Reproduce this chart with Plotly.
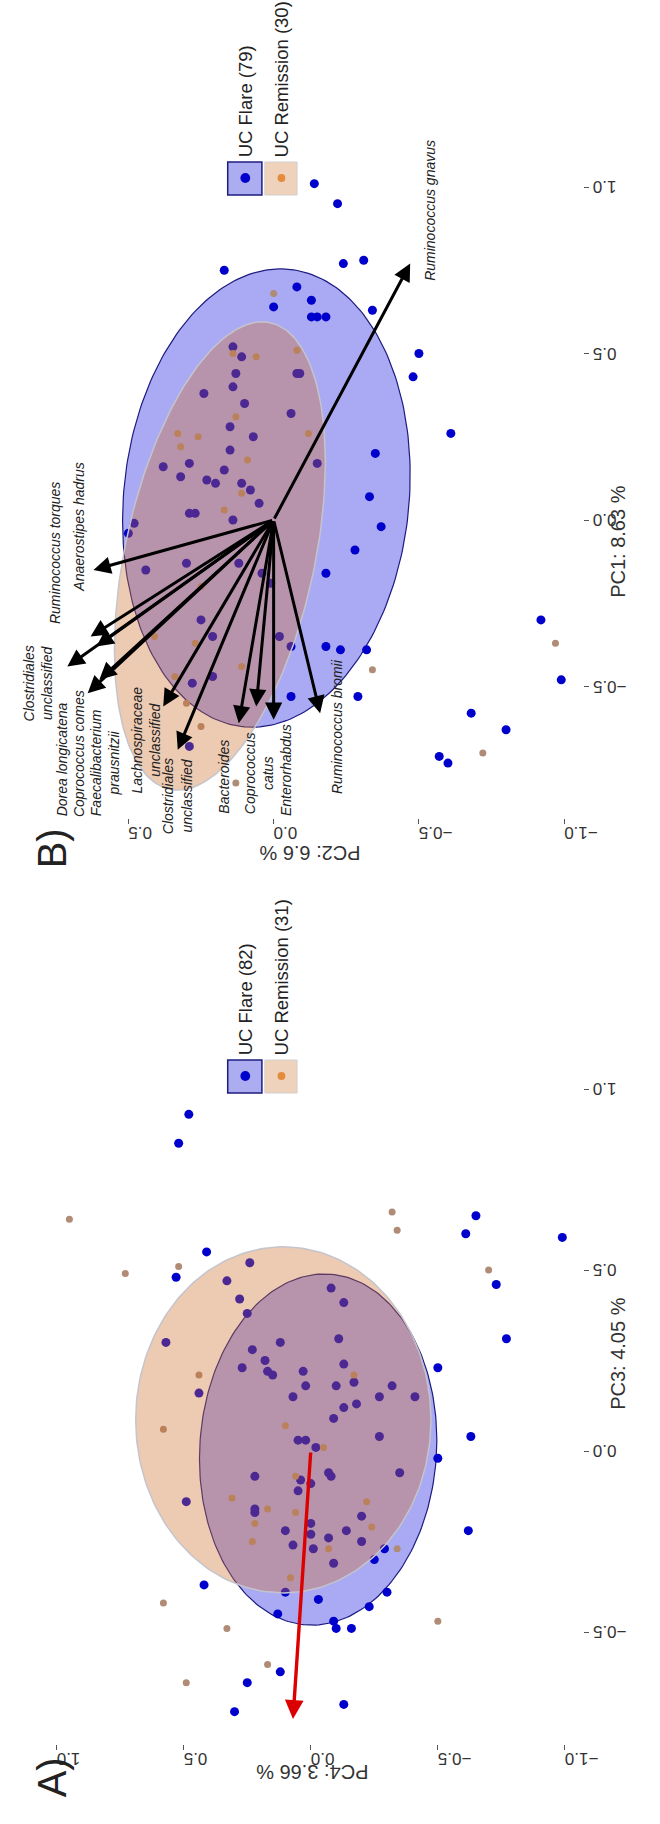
import numpy as np
import plotly.graph_objects as go

# ---------------- Panel B : PC2 (6.6 %) vs PC1 (8.63 %) ----------------
b_flare_pc2 = [0.17, -0.14, -0.08, -0.13, 0.00, -0.13, -0.15, 0.14, 0.11, -0.08, -0.09, 0.13, 0.14, 0.24,
               0.10, -0.06, 0.15, 0.07, 0.15, 0.38, 0.29, 0.17, -0.15, 0.32, 0.23, 0.20, 0.11, 0.08, 0.05,
               0.29, 0.27, 0.14, 0.48, 0.50, 0.44, 0.30, 0.12, 0.01, 0.04, 0.25, 0.21, -0.02, -0.06, 0.28,
               0.21, -0.06, 0.29, -0.18, -0.23, -0.32, -0.29, -0.92, -0.99, -0.68, -0.80, -0.57, -0.60,
               -0.22, -0.24, -0.31, -0.18, -0.34, -0.50, -0.48, -0.61, -0.35, -0.33, -0.37, -0.28, -0.18]
b_flare_pc1 = [0.75, 1.01, 0.70, 0.66, 0.64, 0.61, 0.61, 0.52, 0.49, 0.44, 0.44, 0.44, 0.40, 0.38,
               0.35, 0.32, 0.28, 0.25, 0.21, 0.16, 0.17, 0.15, 0.17, 0.13, 0.12, 0.11, 0.11, 0.09, 0.05,
               0.02, 0.02, 0.00, -0.01, -0.04, -0.15, -0.13, -0.13, -0.19, -0.16, -0.30, -0.35, -0.35, -0.38,
               -0.49, -0.47, -0.53, -0.68, -0.38, -0.39, -0.39, -0.53, -0.30, -0.48, -0.58, -0.63, -0.71,
               -0.73, 0.95, 0.77, 0.78, 0.61, 0.63, 0.50, 0.43, 0.26, 0.20, 0.07, -0.02, -0.09, -0.16]
b_rem_pc2 = [0.00, 0.14, 0.06, -0.08, 0.13, 0.33, 0.26, 0.32, 0.09, 0.11, 0.17, -0.12, 0.27, 0.41, 0.34,
             0.11, 0.25, 0.13, 0.30, -0.34, -0.97, -0.72, 0.25]
b_rem_pc1 = [0.68, 0.50, 0.49, 0.51, 0.31, 0.26, 0.25, 0.22, 0.18, 0.08, 0.03, 0.26, -0.37, -0.35, -0.47,
             -0.44, -0.62, -0.79, -0.55, -0.45, -0.37, -0.70, -0.20]

species = ["Anaerostipes hadrus", "Ruminococcus torques", "Clostridiales unclassified",
           "Dorea longicatena", "Coprococcus comes", "Faecalibacterium prausnitzii",
           "Lachnospiraceae unclassified", "Clostridiales unclassified (2)", "Bacteroides",
           "Coprococcus catus", "Enterorhabdus", "Ruminococcus bromii", "Ruminococcus gnavus"]
load_pc2 = [0.62, 0.63, 0.71, 0.61, 0.64, 0.60, 0.38, 0.33, 0.12, 0.06, 0.00, -0.16, -0.47]
load_pc1 = [-0.15, -0.35, -0.44, -0.38, -0.52, -0.48, -0.56, -0.69, -0.61, -0.56, -0.60, -0.58, 0.77]

label_text = ["Anaerostipes hadrus", "Ruminococcus torques", "Clostridiales<br>unclassified",
              "Dorea longicatena", "Coprococcus comes", "Faecalibacterium<br>prausnitzii",
              "Lachnospiraceae<br>unclassified", "Clostridiales<br>unclassified", "Bacteroides",
              "Coprococcus<br>catus", "Enterorhabdus", "Ruminococcus bromii", "Ruminococcus gnavus"]
label_pc2 = [0.67, 0.75, 0.81, 0.73, 0.67, 0.58, 0.44, 0.33, 0.17, 0.05, -0.04, -0.22, -0.54]
label_pc1 = [-0.02, -0.10, -0.49, -0.72, -0.70, -0.73, -0.66, -0.83, -0.77, -0.76, -0.75, -0.62, 0.93]

# ---------------- Panel A : PC4 (3.66 %) vs PC3 (4.05 %) ----------------
a_flare_pc4 = [0.48, 0.52, 0.41, 0.53, 0.24, 0.33, 0.28, 0.25, 0.57, 0.23, 0.12, 0.27, 0.18, 0.17, 0.15,
               0.03, 0.02, 0.07, 0.44, 0.05, 0.02, -0.02, 0.22, 0.04, 0.05, 0.00, 0.49, 0.22, 0.22, 0.00,
               0.10, 0.00, 0.07, -0.01, 0.10, 0.42, -0.03, 0.13, 0.12, 0.25, 0.30, -0.65, -0.61, -0.99,
               -0.73, -0.77, -0.50, -0.63, -0.50, -0.62, -0.13, -0.08, -0.13, -0.11, -0.13, -0.17, -0.10,
               -0.13, -0.18, -0.09, -0.27, -0.32, -0.41, -0.27, -0.35, -0.07, -0.08, -0.20, -0.14, -0.07,
               -0.20, -0.09, -0.25, -0.29, -0.30, -0.23, -0.09, -0.10, -0.16]
a_flare_pc3 = [0.93, 0.85, 0.55, 0.48, 0.52, 0.47, 0.42, 0.38, 0.30, 0.28, 0.30, 0.23, 0.25, 0.22, 0.21,
               0.22, 0.18, 0.15, 0.16, 0.03, 0.03, 0.01, -0.07, -0.08, -0.11, -0.09, -0.14, -0.16, -0.17,
               -0.20, -0.22, -0.23, -0.26, -0.27, -0.39, -0.37, -0.41, -0.45, -0.61, -0.64, -0.72, 0.65,
               0.60, 0.59, 0.46, 0.31, 0.23, 0.04, -0.02, -0.22, -0.70, 0.45, 0.41, 0.31, 0.24, 0.19, 0.18,
               0.12, 0.13, 0.09, 0.15, 0.18, 0.15, 0.04, -0.06, -0.06, -0.07, -0.18, -0.22, -0.24, -0.25,
               -0.31, -0.30, -0.27, -0.39, -0.43, -0.47, -0.49, -0.49]
a_rem_pc4 = [0.95, 0.73, 0.52, 0.44, 0.10, 0.58, 0.31, 0.06, 0.17, 0.06, 0.22, 0.23, 0.08, 0.58, 0.33,
             0.17, 0.49, -0.32, -0.34, -0.70, -0.50, -0.17, -0.05, -0.22, -0.24, -0.07, -0.34]
a_rem_pc3 = [0.64, 0.49, 0.51, 0.21, 0.07, 0.06, -0.13, -0.07, -0.16, -0.17, -0.20, -0.25, -0.35, -0.42,
             -0.49, -0.59, -0.64, 0.66, 0.61, 0.50, -0.47, 0.21, 0.01, -0.14, -0.21, -0.27, -0.27]
a_load_pc4 = [0.07]
a_load_pc3 = [-0.74]

# tick values
b_pc2_ticks = [0.5, 0.0, -0.5, -1.0]
b_pc1_ticks = [-0.5, 0.0, 0.5, 1.0]
a_pc4_ticks = [1.0, 0.5, 0.0, -0.5, -1.0]
a_pc3_ticks = [-0.5, 0.0, 0.5, 1.0]

# ellipse parameters: centre, half extents, phase (deg)
ell_b_flare = dict(cx=0.025, cy=0.066, w=0.495, h=0.688, phi=95.7)
ell_b_rem = dict(cx=0.185, cy=-0.108, w=0.363, h=0.703, phi=113.6)
ell_a_flare = dict(cx=-0.029, cy=0.004, w=0.467, h=0.485, phi=93.0)
ell_a_rem = dict(cx=0.108, cy=0.086, w=0.581, h=0.478, phi=90.0)

BLUE = "#0000cc"
REM_PT = "rgb(176,140,118)"
BLUE_FILL = "rgba(25,25,225,0.37)"
ORANGE_FILL = "rgba(205,110,45,0.37)"


def ellipse(p):
    t = np.linspace(0, 2 * np.pi, 240)
    ph = np.deg2rad(p["phi"])
    return p["cx"] + p["w"] * np.cos(t), p["cy"] + p["h"] * np.cos(t + ph)


fig = go.Figure()


def add_panel(xa, ya, ef, er, fx, fy, rx, ry):
    ex, ey = ellipse(ef)
    fig.add_trace(go.Scatter(x=ex, y=ey, mode="lines", fill="toself", fillcolor=BLUE_FILL,
                             line=dict(color="#1c1c80", width=1.2), xaxis=xa, yaxis=ya,
                             showlegend=False, hoverinfo="skip"))
    fig.add_trace(go.Scatter(x=fx, y=fy, mode="markers", marker=dict(color=BLUE, size=9),
                             xaxis=xa, yaxis=ya, showlegend=False))
    fig.add_trace(go.Scatter(x=rx, y=ry, mode="markers", marker=dict(color=REM_PT, size=7),
                             xaxis=xa, yaxis=ya, showlegend=False))
    ex, ey = ellipse(er)
    fig.add_trace(go.Scatter(x=ex, y=ey, mode="lines", fill="toself", fillcolor=ORANGE_FILL,
                             line=dict(color="#c4c4cc", width=1.5), xaxis=xa, yaxis=ya,
                             showlegend=False, hoverinfo="skip"))


add_panel("x", "y", ell_b_flare, ell_b_rem, b_flare_pc2, b_flare_pc1, b_rem_pc2, b_rem_pc1)
add_panel("x2", "y2", ell_a_flare, ell_a_rem, a_flare_pc4, a_flare_pc3, a_rem_pc4, a_rem_pc3)

W, H = 660, 1824


def px(x):
    return x / W


def py(y):
    return 1 - y / H


TXT = "Liberation Sans, Arial, sans-serif"
TICKFONT = dict(family=TXT, size=17, color="#333")
common = dict(showgrid=False, zeroline=False, showline=False, ticks="outside", ticklen=5,
              tickcolor="#555", tickwidth=1, tickfont=TICKFONT, tickangle=180, tickformat=".1f")

fig.update_layout(
    width=W, height=H, margin=dict(l=0, r=0, t=0, b=0),
    paper_bgcolor="white", plot_bgcolor="white", showlegend=False,
    xaxis=dict(domain=[0, 597 / W], range=[0.9418, -1.0663], anchor="y",
               tickvals=b_pc2_ticks, **common),
    yaxis=dict(domain=[py(818), 1.0], range=[-0.8949, 1.5616], anchor="x", side="right",
               tickvals=b_pc1_ticks, showticklabels=False, **common),
    xaxis2=dict(domain=[0, 597 / W], range=[1.2231, -1.0731], anchor="y2",
                tickvals=a_pc4_ticks, **common),
    yaxis2=dict(domain=[py(1744), py(900)], range=[-0.8094, 1.5221], anchor="x2", side="right",
                tickvals=a_pc3_ticks, showticklabels=False, **common),
)


def fmt(v):
    s = "%.1f" % abs(v)
    return ("\u2212" + s) if v < 0 else s


ann = []
# right-hand tick labels (upside down, as in the reference)
for yref, vals in (("y", b_pc1_ticks), ("y2", a_pc3_ticks)):
    for v in vals:
        ann.append(dict(x=px(604), y=v, xref="paper", yref=yref, text=fmt(v), textangle=180,
                        showarrow=False, xanchor="left", yanchor="middle", font=TICKFONT))

# loadings arrows panel B
for i in range(len(species)):
    ann.append(dict(x=load_pc2[i], y=load_pc1[i], ax=0, ay=0, xref="x", yref="y", axref="x",
                    ayref="y", showarrow=True, arrowhead=2, arrowsize=1.15, arrowwidth=3.0,
                    arrowcolor="black", text=""))
    ann.append(dict(x=label_pc2[i], y=label_pc1[i], xref="x", yref="y", showarrow=False,
                    text="<i>" + label_text[i] + "</i>", textangle=-90,
                    font=dict(family=TXT, size=14, color="#222"), xanchor="center",
                    yanchor="middle"))
# panel A arrow
ann.append(dict(x=a_load_pc4[0], y=a_load_pc3[0], ax=0, ay=0, xref="x2", yref="y2", axref="x2",
                ayref="y2", showarrow=True, arrowhead=2, arrowsize=1.1, arrowwidth=3.4,
                arrowcolor="#dd0000", text=""))

# axis titles and panel labels
ann += [
    dict(x=px(645), y=py(483), xref="paper", yref="paper", text="PC1: 8.63 %", textangle=-90,
         showarrow=False, font=dict(family=TXT, size=20, color="#333")),
    dict(x=px(645), y=py(1412), xref="paper", yref="paper", text="PC3: 4.05 %", textangle=-90,
         showarrow=False, font=dict(family=TXT, size=20, color="#333")),
    dict(x=px(317), y=py(853), xref="paper", yref="paper", text="PC2: 6.6 %", textangle=180,
         showarrow=False, font=dict(family=TXT, size=20, color="#333")),
    dict(x=px(319), y=py(1785), xref="paper", yref="paper", text="PC4: 3.66 %", textangle=180,
         showarrow=False, font=dict(family=TXT, size=20, color="#333")),
    dict(x=px(29), y=py(848), xref="paper", yref="paper", text="B)", textangle=-90,
         showarrow=False, font=dict(family=TXT, size=40, color="#222")),
    dict(x=px(29), y=py(1799), xref="paper", yref="paper", text="A)", textangle=-90,
         showarrow=False, font=dict(family=TXT, size=40, color="#222")),
]

# legends
shapes = []
legends = [(162, "UC Flare (79)", "UC Remission (30)"), (1060, "UC Flare (82)", "UC Remission (31)")]
for top, t1, t2 in legends:
    shapes.append(dict(type="rect", xref="paper", yref="paper", x0=px(233), x1=px(268),
                       y0=py(top + 33), y1=py(top), fillcolor="rgb(172,172,240)",
                       line=dict(color="#1c1c80", width=1.5)))
    shapes.append(dict(type="rect", xref="paper", yref="paper", x0=px(271), x1=px(304),
                       y0=py(top + 33), y1=py(top), fillcolor="rgb(238,210,188)",
                       line=dict(color="#d0d0d0", width=1)))
    shapes.append(dict(type="circle", xref="paper", yref="paper", x0=px(246), x1=px(256),
                       y0=py(top + 21), y1=py(top + 11), fillcolor=BLUE, line=dict(width=0)))
    shapes.append(dict(type="circle", xref="paper", yref="paper", x0=px(284), x1=px(292),
                       y0=py(top + 20), y1=py(top + 12), fillcolor="rgb(228,140,60)",
                       line=dict(width=0)))
    ann.append(dict(x=px(251), y=py(top - 3), xref="paper", yref="paper", text=t1,
                    textangle=-90, showarrow=False, xanchor="center", yanchor="bottom",
                    font=dict(family=TXT, size=18.5, color="#222")))
    ann.append(dict(x=px(288), y=py(top - 3), xref="paper", yref="paper", text=t2,
                    textangle=-90, showarrow=False, xanchor="center", yanchor="bottom",
                    font=dict(family=TXT, size=18.5, color="#222")))

fig.update_layout(annotations=ann, shapes=shapes)
fig.write_html("out.html")
